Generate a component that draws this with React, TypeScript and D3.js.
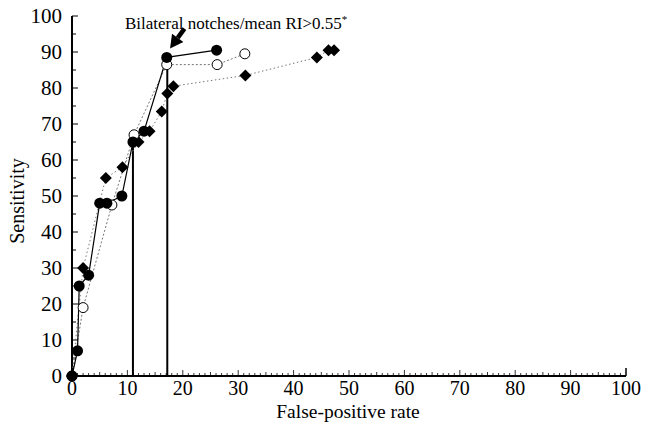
import React from "react";
import * as d3 from "d3";

const filledCircles: [number, number][] = [
  [0, 0], [1, 7], [1.3, 25], [3, 28], [5, 48], [6.3, 48], [9, 50], [11, 65], [13, 68], [17.1, 88.5], [26.1, 90.5],
];
const openCircles: [number, number][] = [
  [0, 0], [2, 19], [7.2, 47.5], [11.2, 67], [17.1, 86.5], [26.2, 86.5], [31.2, 89.5],
];
const diamonds: [number, number][] = [
  [0, 0], [2, 30], [6.1, 55], [9.1, 58], [12, 65], [14, 68], [16.2, 73.5], [17.2, 78.5], [18.3, 80.5], [31.3, 83.5], [44.2, 88.5], [46.3, 90.5], [47.3, 90.5],
];
const cutoffs: [number, number][] = [[11, 65], [17.2, 88.5]];
const xTicks = [0, 10, 20, 30, 40, 50, 60, 70, 80, 90, 100];
const yTicks = [0, 10, 20, 30, 40, 50, 60, 70, 80, 90, 100];
const annotation = "Bilateral notches/mean RI>0.55";

const W = 654, H = 427;
const x = d3.scaleLinear().domain([0, 100]).range([72, 626]);
const y = d3.scaleLinear().domain([0, 100]).range([376, 16]);
const font = "\"Liberation Serif\", \"Times New Roman\", \"DejaVu Serif\", serif";

export default function App() {
  const line = d3.line<[number, number]>().x(d => x(d[0])).y(d => y(d[1]));
  const minorX = d3.range(0, 101, 1);
  const minorY = d3.range(0, 101, 5);
  const dg = 6;
  const diamond = `M0,${-dg}L${dg},0L0,${dg}L${-dg},0Z`;
  const tip: [number, number] = [17.7, 91];
  const tail: [number, number] = [20.3, 96.5];
  const tx = x(tip[0]), ty = y(tip[1]), sx = x(tail[0]), sy = y(tail[1]);
  const ang = Math.atan2(ty - sy, tx - sx);
  const hl = 13, hw = 7;
  const bx = tx - hl * Math.cos(ang), by = ty - hl * Math.sin(ang);
  const px = -Math.sin(ang), py = Math.cos(ang);
  const ts = { fontFamily: font };
  return (
    <svg width={W} height={H} style={{ position: "absolute", left: 0, top: 0, background: "#fff" }}>
      <rect width={W} height={H} fill="#fff" />
      <line x1={x(0)} x2={x(0)} y1={y(0)} y2={y(100)} stroke="#000" strokeWidth={2} />
      <line x1={x(0)} x2={x(100)} y1={y(0)} y2={y(0)} stroke="#000" strokeWidth={2} />
      {minorY.map(v => (
        <line key={"ym" + v} x1={x(0)} x2={x(0) + (v % 10 === 0 ? 6 : 4)} y1={y(v)} y2={y(v)} stroke="#000" strokeWidth={1} />
      ))}
      {minorX.map(v => (
        <line key={"xm" + v} x1={x(v)} x2={x(v)} y1={y(0)} y2={y(0) - (v === 100 ? 8 : v % 10 === 0 ? 6 : v % 5 === 0 ? 4 : 3)} stroke="#000" strokeWidth={v === 100 ? 1.5 : 0.8} />
      ))}
      {yTicks.map(v => (
        <text key={"yl" + v} x={62} y={y(v) + 7} textAnchor="end" style={ts} fontSize={21}>{v}</text>
      ))}
      {xTicks.map(v => (
        <text key={"xl" + v} x={x(v)} y={395} textAnchor="middle" style={ts} fontSize={20}>{v}</text>
      ))}
      <text x={x(50) - 1} y={418} textAnchor="middle" style={ts} fontSize={19.5}>False-positive rate</text>
      <text transform={`translate(24,${y(50) + 5}) rotate(-90)`} textAnchor="middle" style={ts} fontSize={20}>Sensitivity</text>
      {cutoffs.map((c, i) => (
        <line key={"c" + i} x1={x(c[0])} x2={x(c[0])} y1={y(0)} y2={y(c[1])} stroke="#000" strokeWidth={2} />
      ))}
      <path d={line(diamonds) || ""} fill="none" stroke="#777" strokeWidth={1} strokeDasharray="1.5,2.5" />
      <path d={line(openCircles) || ""} fill="none" stroke="#666" strokeWidth={0.9} strokeDasharray="2,2" />
      <path d={line(filledCircles) || ""} fill="none" stroke="#000" strokeWidth={1.2} />
      {diamonds.map((d, i) => (
        <path key={"d" + i} d={diamond} transform={`translate(${x(d[0])},${y(d[1])})`} fill="#000" />
      ))}
      {openCircles.map((d, i) => (
        <circle key={"o" + i} cx={x(d[0])} cy={y(d[1])} r={5} fill="#fff" stroke="#000" strokeWidth={1} />
      ))}
      {filledCircles.map((d, i) => (
        <circle key={"f" + i} cx={x(d[0])} cy={y(d[1])} r={5.5} fill="#000" />
      ))}
      <text x={125} y={29} style={ts} fontSize={17}>{annotation}<tspan fontSize={11} dy={-6}>*</tspan></text>
      <line x1={sx} y1={sy} x2={bx} y2={by} stroke="#000" strokeWidth={4.5} />
      <polygon points={`${tx},${ty} ${bx + px * hw},${by + py * hw} ${bx - px * hw},${by - py * hw}`} fill="#000" />
    </svg>
  );
}
